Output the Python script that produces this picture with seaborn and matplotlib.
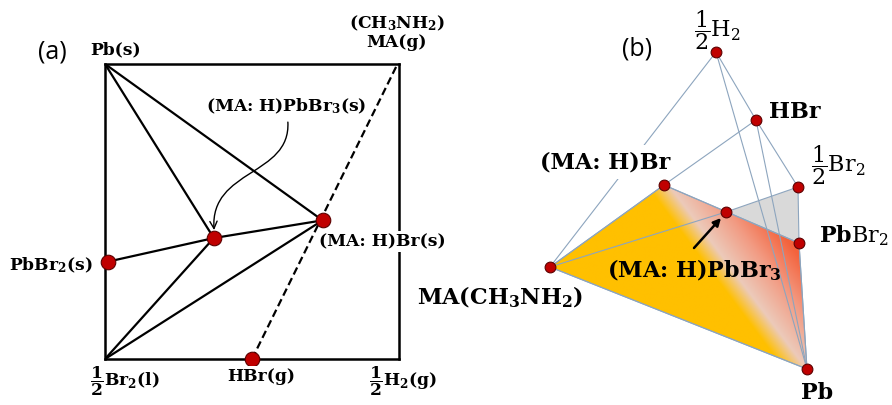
import matplotlib
matplotlib.use("Agg")
import matplotlib.pyplot as plt
import numpy as np
import pandas as pd
import seaborn as sns
from matplotlib.colors import to_rgb
from matplotlib.patches import FancyArrowPatch, Polygon
from matplotlib.path import Path

# panel (a): composition square, unit coordinates (x right, y up)
A_NAMES = ["Pb", "Br2", "H2", "MA", "PbBr2", "MAPbBr3", "MABr", "HBr"]
A_X = [0.0, 0.0, 1.0, 0.99, 0.01, 0.37, 0.74, 0.50]
A_Y = [1.0, 0.0, 0.0, 0.99, 0.33, 0.41, 0.47, 0.0]
A_DOTS = ["PbBr2", "MAPbBr3", "MABr", "HBr"]
A_TIES = [("Pb", "MAPbBr3"), ("Pb", "MABr"), ("PbBr2", "MAPbBr3"),
          ("MAPbBr3", "MABr"), ("Br2", "MAPbBr3"), ("Br2", "MABr")]
A_DASHED = [("HBr", "MA")]

# panel (b): projected tetrahedron, figure pixels (y down)
B_NAMES = ["H2", "HBr", "Br2", "PbBr2", "Pb", "MA", "MABr", "MAPbBr3"]
B_X = [716, 756, 798, 799, 807, 550, 664, 726]
B_Y = [52, 120, 187, 243, 369, 267, 185, 212]
B_EDGES = [("H2", "HBr"), ("H2", "Pb"), ("HBr", "MABr"), ("HBr", "Br2"),
           ("HBr", "Pb"), ("Br2", "MAPbBr3"), ("Br2", "PbBr2"), ("MABr", "PbBr2"),
           ("MA", "MABr"), ("MA", "MAPbBr3"), ("MA", "Pb"), ("PbBr2", "Pb")]
B_HIDDEN_EDGE = ("H2", "MA")
B_GRADIENT_FACE = ["MA", "MABr", "PbBr2", "Pb"]
B_GREY_FACE = ["Br2", "MAPbBr3", "PbBr2"]

A_LABELS = [
    (r"Pb(s)", 0.037, 1.047),
    ("(CH$_\\mathbf{3}$NH$_\\mathbf{2}$)\nMA(g)", 0.993, 1.108),
    (r"(MA: H)PbBr$_\mathbf{3}$(s)", 0.616, 0.858),
    (r"(MA: H)Br(s)", 0.942, 0.397),
    (r"PbBr$_\mathbf{2}$(s)", -0.184, 0.319),
    (r"$\dfrac{\mathbf{1}}{\mathbf{2}}$Br$_\mathbf{2}$(l)", 0.068, -0.075),
    (r"HBr(g)", 0.531, -0.061),
    (r"$\dfrac{\mathbf{1}}{\mathbf{2}}$H$_\mathbf{2}$(g)", 1.014, -0.075),
]
B_LABELS = [
    (r"$\dfrac{1}{2}$H$_2$", 717, 30, "normal"),
    (r"HBr", 795, 112, "bold"),
    (r"$\dfrac{1}{2}$Br$_2$", 838, 165, "normal"),
    (r"$\mathbf{Pb}$Br$_2$", 854, 236, "normal"),
    (r"(MA: H)PbBr$_\mathbf{3}$", 694, 270, "bold"),
    (r"MA(CH$_\mathbf{3}$NH$_\mathbf{2}$)", 500, 297, "bold"),
    (r"Pb", 817, 393, "bold"),
]

RED = "#C00000"
RED_EDGE = "#5C0000"
EDGE = "#8DA5BE"

sns.set_theme(style="white")
plt.rcParams["font.family"] = ["DejaVu Serif"]
plt.rcParams["text.color"] = "black"
plt.rcParams["mathtext.fontset"] = "custom"
plt.rcParams["mathtext.rm"] = "DejaVu Serif"
plt.rcParams["mathtext.bf"] = "DejaVu Serif:bold"
plt.rcParams["mathtext.default"] = "rm"

fig = plt.figure(figsize=(8.92, 4.05), dpi=100, facecolor="white")

# ---- panel (b), drawn on a full-figure pixel axes
ax_b = fig.add_axes([0, 0, 1, 1])
ax_b.set_axis_off()
bx = dict(zip(B_NAMES, B_X))
by = dict(zip(B_NAMES, B_Y))

quad = [(bx[n], by[n]) for n in B_GRADIENT_FACE]
gx = np.linspace(min(p[0] for p in quad) - 2, max(p[0] for p in quad) + 2, 400)
gy = np.linspace(min(p[1] for p in quad) - 2, max(p[1] for p in quad) + 2, 300)
GX, GY = np.meshgrid(gx, gy)
t = (GX - 675) * 0.80 - (GY - 193) * 0.599
stops_t = [-18, 0, 30, 62]
stops_c = ["#FFC000", "#ECCABA", "#F29C84", "#F4623C"]
rgb = np.stack([np.interp(t, stops_t, [to_rgb(c)[i] for c in stops_c]) for i in range(3)], axis=-1)
im = ax_b.imshow(rgb, extent=(gx[0], gx[-1], gy[-1], gy[0]), origin="upper",
                 interpolation="bilinear", aspect="auto", zorder=1)
quad_patch = Polygon(quad, closed=True, fc="none", ec=EDGE, lw=0.8, zorder=2)
ax_b.add_patch(quad_patch)
im.set_clip_path(quad_patch)

grey = [(bx[n], by[n]) for n in B_GREY_FACE]
ax_b.add_patch(Polygon(grey, closed=True, fc="#D9D9D9", ec="none", zorder=1.5))

u, v = B_HIDDEN_EDGE
ax_b.plot([bx[u], bx[v]], [by[u], by[v]], color=EDGE, lw=0.8, zorder=2)
ax_b.text(605, 162, r"(MA: H)Br", fontsize=16, fontweight="bold", ha="center", va="center",
          zorder=2.5, bbox=dict(fc="white", ec="none", pad=4))
for u, v in B_EDGES:
    ax_b.plot([bx[u], bx[v]], [by[u], by[v]], color=EDGE, lw=0.8, zorder=3)

b_df = pd.DataFrame({"x": B_X, "y": B_Y})
sns.scatterplot(data=b_df, x="x", y="y", s=60, color=RED, edgecolor=RED_EDGE,
                linewidth=0.8, ax=ax_b, zorder=5, legend=False)

for text, x, y, w in B_LABELS:
    ax_b.text(x, y, text, fontsize=16, fontweight=w, ha="center", va="center", zorder=6)

ax_b.annotate("", xy=(bx["MAPbBr3"] - 5, by["MAPbBr3"] + 6), xytext=(694, 248),
              arrowprops=dict(arrowstyle="-|>", lw=1.8, color="black", mutation_scale=11,
                              shrinkA=0, shrinkB=0),
              zorder=6)
ax_b.text(637, 49, "(b)", fontsize=18, family="Open Sans", ha="center", va="center")
ax_b.text(52, 52, "(a)", fontsize=18, family="Open Sans", ha="center", va="center")
ax_b.set_xlim(0, 892)
ax_b.set_ylim(405, 0)

# ---- panel (a)
ax_a = fig.add_axes([105 / 892, 46 / 405, 294 / 892, 295 / 405])
ax_a.set_facecolor("none")
ax_x = dict(zip(A_NAMES, A_X))
ax_y = dict(zip(A_NAMES, A_Y))
for u, v in A_TIES:
    ax_a.plot([ax_x[u], ax_x[v]], [ax_y[u], ax_y[v]], color="black", lw=1.6,
              solid_capstyle="round", zorder=3)
for u, v in A_DASHED:
    ax_a.plot([ax_x[u], ax_x[v]], [ax_y[u], ax_y[v]], color="black", lw=1.6,
              linestyle=(0, (3.5, 1.8)), zorder=3)

a_df = pd.DataFrame({"x": [ax_x[n] for n in A_DOTS], "y": [ax_y[n] for n in A_DOTS]})
sns.scatterplot(data=a_df, x="x", y="y", s=110, color=RED, edgecolor=RED_EDGE,
                linewidth=0.8, ax=ax_a, zorder=5, clip_on=False, legend=False)

curve = Path([(0.622, 0.803), (0.632, 0.62), (0.357, 0.645), (0.371, 0.437)],
             [Path.MOVETO, Path.CURVE4, Path.CURVE4, Path.CURVE4])
ax_a.add_patch(FancyArrowPatch(path=curve, arrowstyle="->", mutation_scale=13,
                               lw=1.0, color="black", zorder=4))

for text, x, y in A_LABELS:
    ax_a.text(x, y, text, fontsize=12.3, fontweight="bold", ha="center", va="center",
              multialignment="center", linespacing=1.1, zorder=7, clip_on=False,
              bbox=dict(fc="white", ec="none", pad=1.5))

for s in ax_a.spines.values():
    s.set_visible(True)
    s.set_color("black")
    s.set_linewidth(1.8)
ax_a.set_xlim(0, 1)
ax_a.set_ylim(0, 1)
ax_a.set_xticks([])
ax_a.set_yticks([])
ax_a.set_xlabel("")
ax_a.set_ylabel("")

fig.savefig("out.png", dpi=100, facecolor="white")
